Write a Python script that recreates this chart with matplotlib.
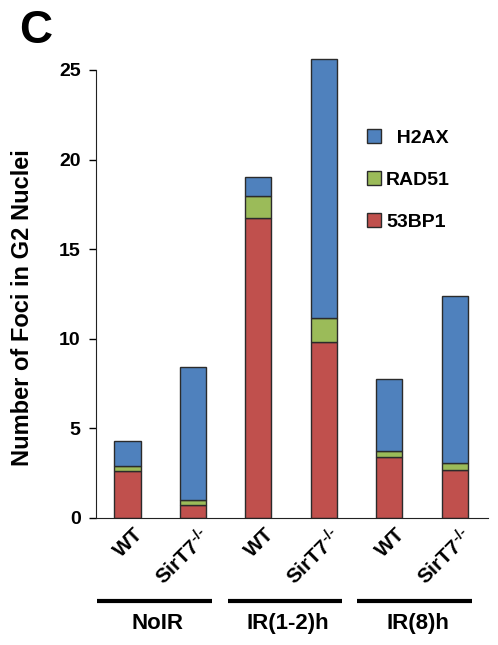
import matplotlib
matplotlib.use('Agg')
import matplotlib.pyplot as plt
import matplotlib.transforms as mtransforms
from matplotlib.patches import Patch

plt.rcParams['font.family'] = ['Liberation Sans', 'DejaVu Sans']
plt.rcParams['font.weight'] = 'bold'
plt.rcParams['mathtext.fontset'] = 'custom'
plt.rcParams['mathtext.rm'] = 'Liberation Sans:bold'
plt.rcParams['mathtext.bf'] = 'Liberation Sans:bold'
plt.rcParams['mathtext.default'] = 'rm'

# data
bar_labels = ['WT', r'SirT7$^{\text{-/-}}$', 'WT', r'SirT7$^{\text{-/-}}$',
              'WT', r'SirT7$^{\text{-/-}}$']
groups = ['NoIR', 'IR(1-2)h', 'IR(8)h']
foci_53bp1 = [2.65, 0.72, 16.75, 9.82, 3.42, 2.66]
foci_rad51 = [0.27, 0.30, 1.20, 1.34, 0.30, 0.43]
foci_h2ax = [1.38, 7.43, 1.08, 14.44, 4.04, 9.30]

c_red = '#C0504D'
c_green = '#9BBB59'
c_blue = '#4F81BD'
edge = '#2b2b2b'

fig = plt.figure(figsize=(4.98, 6.45), dpi=100)
ax = fig.add_axes([96/498, 1 - 518/645, (488 - 96)/498, 466/645])

x = list(range(len(bar_labels)))
w = 0.4
bottom2 = foci_53bp1
bottom3 = [a + b for a, b in zip(foci_53bp1, foci_rad51)]
ax.bar(x, foci_53bp1, w, color=c_red, edgecolor=edge, linewidth=1)
ax.bar(x, foci_rad51, w, bottom=bottom2, color=c_green, edgecolor=edge, linewidth=1)
ax.bar(x, foci_h2ax, w, bottom=bottom3, color=c_blue, edgecolor=edge, linewidth=1)

ax.set_xlim(-0.48, 5.51)
ax.set_ylim(0, 26)
ax.set_yticks([0, 5, 10, 15, 20, 25])
ax.spines['top'].set_visible(False)
ax.spines['right'].set_visible(False)
ax.spines['left'].set_bounds(0, 25)
ax.spines['left'].set_color('#222222')
ax.spines['bottom'].set_color('#222222')
ax.tick_params(axis='y', length=5, width=1, labelsize=14, pad=6)
ax.tick_params(axis='x', length=0, labelsize=15, pad=2)
for t in ax.get_yticklabels():
    t.set_fontweight('bold')

ax.set_xticks(x)
ax.set_xticklabels(bar_labels, rotation=45, ha='right', rotation_mode='anchor',
                   fontweight='bold')
offset = mtransforms.ScaledTranslation(6/100, -4/100, fig.dpi_scale_trans)
for t in ax.get_xticklabels():
    t.set_transform(t.get_transform() + offset)

# group brackets
trans = mtransforms.blended_transform_factory(ax.transData, ax.transAxes)
spans = [(-0.46, 1.29), (1.53, 3.28), (3.51, 5.27)]
for (a, b), g in zip(spans, groups):
    ax.plot([a, b], [-0.178, -0.178], color='black', lw=3, transform=trans,
            clip_on=False, solid_capstyle='butt')
    ax.text((a + b) / 2 + 0.05, -0.226, g, transform=trans, ha='center', va='center',
            fontsize=16, fontweight='bold')

handles = [Patch(facecolor=c_blue, edgecolor=edge, label='  H2AX'),
           Patch(facecolor=c_green, edgecolor=edge, label='RAD51'),
           Patch(facecolor=c_red, edgecolor=edge, label='53BP1')]
fig.legend(handles=handles, loc='upper left', bbox_to_anchor=(359/498, 1 - 121/645),
           frameon=False, fontsize=14, handlelength=0.75, handleheight=0.75,
           handletextpad=0.25, labelspacing=1.25, borderaxespad=0)

fig.text(23/498, 1 - 308/645, 'Number of Foci in G2 Nuclei', rotation=90,
         ha='center', va='center', fontsize=17, fontweight='bold',
         family=['Liberation Sans Narrow', 'Liberation Sans'])
fig.text(19/498, 1 - 43/645, 'C', fontsize=33, fontweight='bold', va='baseline')

fig.savefig('out.png', dpi=100)
